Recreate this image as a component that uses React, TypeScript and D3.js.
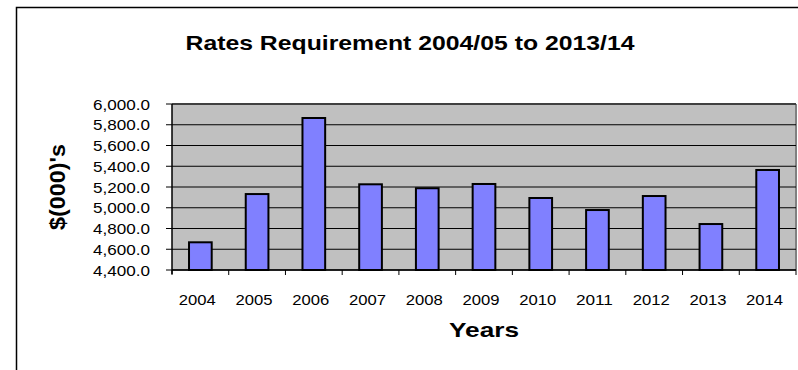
import React from "react";
import * as d3 from "d3";

const years = ["2004", "2005", "2006", "2007", "2008", "2009", "2010", "2011", "2012", "2013", "2014"];
const rates = [4667, 5132, 5865, 5226, 5188, 5229, 5094, 4978, 5113, 4843, 5364];
const yTicks = [4400, 4600, 4800, 5000, 5200, 5400, 5600, 5800, 6000];
const title = "Rates Requirement 2004/05 to 2013/14";
const xTitle = "Years";
const yTitle = "$(000)'s";

const W = 798;
const H = 370;
const plot = { left: 172, right: 796, top: 104, bottom: 270 };

export default function App() {
  const x = d3.scaleBand<string>().domain(years).range([plot.left, plot.right]).paddingInner(0.6).paddingOuter(0.3);
  const xb = d3.scaleBand<string>().domain(years).range([plot.left, plot.right]);
  const y = d3.scaleLinear().domain([4400, 6000]).range([plot.bottom, plot.top]);
  const fmt = d3.format(",.1f");
  const font = "'Liberation Sans', Arial, sans-serif";
  const bounds = years.map((yr) => xb(yr) as number).concat([plot.right]);

  return (
    <div style={{ position: "fixed", left: 0, top: 0 }}>
      <svg width={W} height={H} style={{ display: "block", background: "#fff" }}>
        <rect x={16.5} y={7.5} width={W + 20} height={H + 20} fill="#fff" stroke="#000" strokeWidth={1.5} />
        <text x={410} y={50} textAnchor="middle" fontFamily={font} fontWeight="bold" fontSize={21} textLength={449} lengthAdjust="spacingAndGlyphs">
          {title}
        </text>
        <rect x={plot.left} y={plot.top} width={plot.right - plot.left} height={plot.bottom - plot.top} fill="#C0C0C0" />
        <line x1={plot.left} x2={plot.right} y1={plot.top} y2={plot.top} stroke="#808080" strokeWidth={2} />
        <line x1={plot.right} x2={plot.right} y1={plot.top} y2={plot.bottom} stroke="#808080" strokeWidth={2} />
        {yTicks.map((t) => (
          <g key={t}>
            <line x1={plot.left} x2={plot.right} y1={y(t)} y2={y(t)} stroke="#000" strokeWidth={1} />
            <line x1={plot.left - 6} x2={plot.left} y1={y(t)} y2={y(t)} stroke="#000" strokeWidth={1} />
            <text x={150} y={y(t) + 5.5} textAnchor="end" fontFamily={font} fontSize={15.5} textLength={57} lengthAdjust="spacingAndGlyphs">
              {fmt(t)}
            </text>
          </g>
        ))}
        {years.map((yr, i) => (
          <rect
            key={yr}
            x={x(yr)}
            y={y(rates[i])}
            width={x.bandwidth()}
            height={plot.bottom - y(rates[i])}
            fill="#8080FF"
            stroke="#000"
            strokeWidth={2}
          />
        ))}
        <line x1={plot.left} x2={plot.left} y1={plot.top} y2={plot.bottom + 4} stroke="#000" strokeWidth={1.5} />
        <line x1={plot.left} x2={plot.right} y1={plot.bottom} y2={plot.bottom} stroke="#000" strokeWidth={1.5} />
        {bounds.map((b, i) => (
          <line key={i} x1={b} x2={b} y1={plot.bottom} y2={plot.bottom + 5} stroke="#000" strokeWidth={1} />
        ))}
        {years.map((yr) => (
          <text key={yr} x={(xb(yr) as number) + xb.bandwidth() / 2 - 3} y={305} textAnchor="middle" fontFamily={font} fontSize={15.5} textLength={37} lengthAdjust="spacingAndGlyphs">
            {yr}
          </text>
        ))}
        <text x={(plot.left + plot.right) / 2} y={337} textAnchor="middle" fontFamily={font} fontWeight="bold" fontSize={21} textLength={70} lengthAdjust="spacingAndGlyphs">
          {xTitle}
        </text>
        <text
          transform={`translate(65, ${(plot.top + plot.bottom) / 2}) rotate(-90)`}
          textAnchor="middle"
          fontFamily={font}
          fontWeight="bold"
          fontSize={22}
          textLength={86}
          lengthAdjust="spacingAndGlyphs"
        >
          {yTitle}
        </text>
      </svg>
    </div>
  );
}
